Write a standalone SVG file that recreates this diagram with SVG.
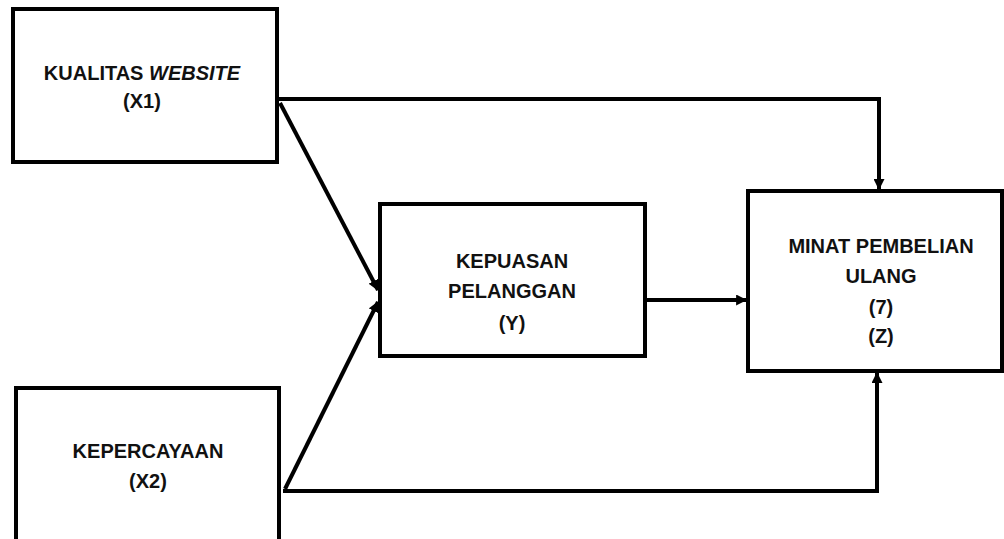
<svg xmlns="http://www.w3.org/2000/svg" width="1004" height="539" viewBox="0 0 1004 539">
<style>
.box{fill:#fff;stroke:#000;stroke-width:4}
.t{font-family:"Liberation Sans",Arial,sans-serif;font-size:20px;font-weight:bold;fill:#111;text-anchor:middle}
.c{fill:none;stroke:#000;stroke-width:4}
</style>
<defs>
<marker id="ah" viewBox="0 0 10 10" refX="9" refY="5" markerWidth="11" markerHeight="11" orient="auto" markerUnits="userSpaceOnUse">
<path d="M0,0 L10,5 L0,10 z" fill="#000"/>
</marker>
</defs>
<rect width="1004" height="539" fill="#fff"/>
<g id="connectors">
<path class="c" d="M279,99 L879,99 L879,189" marker-end="url(#ah)"/>
<path class="c" d="M280,103 L378,290" stroke-width="3" marker-end="url(#ah)"/>
<path class="c" d="M285,489 L378,302" stroke-width="2" marker-end="url(#ah)"/>
<path class="c" d="M283,491 L877,491 L877,373" marker-end="url(#ah)"/>
<path class="c" d="M645,300 L746,300" stroke-width="3" marker-end="url(#ah)"/>
</g>
<g id="x1">
<rect class="box" x="13" y="9" width="264" height="153"/>
<text class="t" x="142" y="80">KUALITAS <tspan font-style="italic">WEBSITE</tspan></text>
<text class="t" x="142" y="108">(X1)</text>
</g>
<g id="y">
<rect class="box" x="380" y="204" width="265" height="152"/>
<text class="t" x="512" y="268">KEPUASAN</text>
<text class="t" x="512" y="298">PELANGGAN</text>
<text class="t" x="512" y="330">(Y)</text>
</g>
<g id="z">
<rect class="box" x="748" y="191" width="254" height="180"/>
<text class="t" x="881" y="253">MINAT PEMBELIAN</text>
<text class="t" x="881" y="283">ULANG</text>
<text class="t" x="881" y="314">(7)</text>
<text class="t" x="881" y="343">(Z)</text>
</g>
<g id="x2">
<rect class="box" x="16" y="388" width="263" height="160"/>
<text class="t" x="148" y="458">KEPERCAYAAN</text>
<text class="t" x="148" y="488">(X2)</text>
</g>
</svg>
